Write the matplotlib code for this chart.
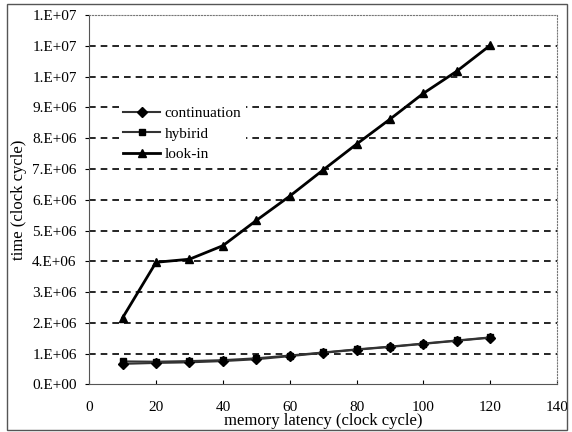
import matplotlib.pyplot as plt
from matplotlib.patches import Rectangle
from matplotlib.ticker import FuncFormatter

############## DATA ##############
latency = [10, 20, 30, 40, 50, 60, 70, 80, 90, 100, 110, 120]
continuation = [0.67e6, 0.70e6, 0.72e6, 0.76e6, 0.82e6, 0.92e6, 1.03e6, 1.13e6, 1.22e6, 1.32e6, 1.42e6, 1.52e6]
hybirid = [0.75e6, 0.74e6, 0.76e6, 0.79e6, 0.85e6, 0.94e6, 1.04e6, 1.14e6, 1.23e6, 1.33e6, 1.43e6, 1.53e6]
look_in = [2.17e6, 3.97e6, 4.07e6, 4.51e6, 5.33e6, 6.12e6, 6.97e6, 7.81e6, 8.62e6, 9.46e6, 10.18e6, 11.02e6]

############## PLOT ##############
plt.rcParams['font.family'] = 'Liberation Serif'

fig = plt.figure(figsize=(5.72, 4.32), dpi=100)
ax = fig.add_axes([0.156, 0.110, 0.818, 0.855])

# horizontal dashed grid, excel style
for v in range(1, 12):
    ax.axhline(v * 1e6, color='black', lw=1.2, ls=(0, (4, 3)), zorder=1)

ax.plot(latency, continuation, color='#333333', lw=1.5, marker='D', ms=5.5,
        mfc='black', mec='black', label='continuation', zorder=3)
ax.plot(latency, hybirid, color='#333333', lw=1.5, marker='s', ms=5,
        mfc='black', mec='black', label='hybirid', zorder=3)
ax.plot(latency, look_in, color='black', lw=2, marker='^', ms=6,
        mfc='black', mec='black', label='look-in', zorder=3)

ax.set_xlim(0, 140)
ax.set_ylim(0, 1.2e7)
ax.set_xticks(range(0, 141, 20))
ax.set_yticks([v * 1e6 for v in range(13)])
ax.yaxis.set_major_formatter(FuncFormatter(lambda v, p: ('%.0E' % v).replace('E', '.E')))
ax.tick_params(labelsize=11, length=3, width=0.8)
ax.tick_params(axis='x', direction='in', pad=12)
ax.tick_params(axis='y', pad=6)

for s in ['top', 'right']:
    ax.spines[s].set_color('#777777')
    ax.spines[s].set_linestyle(':')
for s in ['left', 'bottom']:
    ax.spines[s].set_color('#555555')

ax.set_xlabel('memory latency (clock cycle)', fontsize=12, labelpad=-1)
ax.set_ylabel('time (clock cycle)', fontsize=12, labelpad=4)

leg = ax.legend(loc='upper left', bbox_to_anchor=(0.063, 0.765), frameon=True,
                fontsize=11, handlelength=2.4, handletextpad=0.3, labelspacing=0.45,
                borderaxespad=0, borderpad=0.3, fancybox=False)
leg.get_frame().set_edgecolor('none')
leg.get_frame().set_facecolor('white')
leg.get_frame().set_alpha(1)
leg.set_zorder(5)

fig.patches.append(Rectangle((0.012, 0.005), 0.98, 0.985, transform=fig.transFigure,
                             fill=False, edgecolor='#555555', lw=1))

plt.savefig('out.png', dpi=100)
